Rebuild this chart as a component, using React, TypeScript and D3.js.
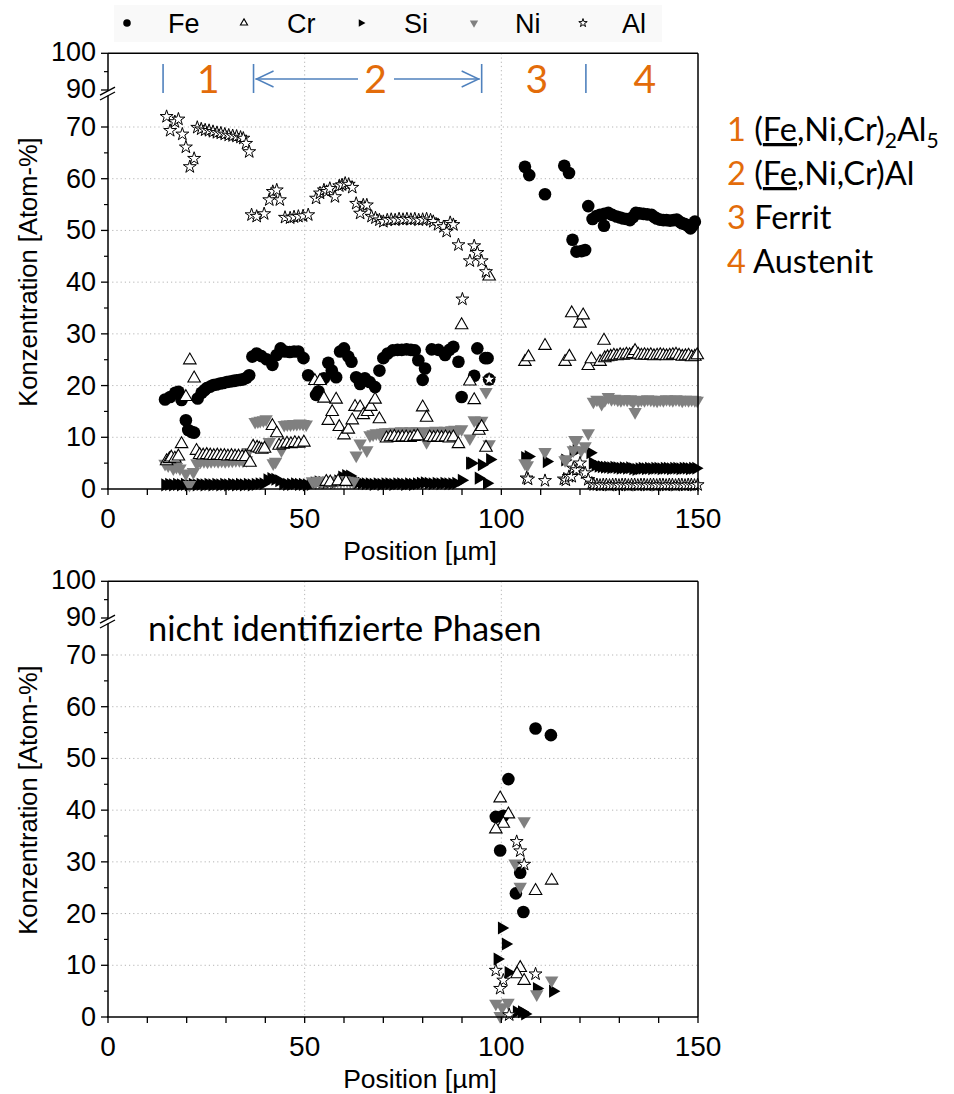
import React from "react";
import * as d3 from "d3";

// ---------- data (position in µm, concentration in Atom-%) ----------
const feTop: [number, number][] = [
  [14.5,17.3],[15.8,17.8],[17.1,18.6],[17.9,18.8],[18.7,17.2],[19.8,13.3],[20.4,11.4],[21.3,11.0],[21.9,10.9],[22.8,17.5],
  [23.8,18.6],[24.5,19.1],[25.1,19.5],[26.0,19.8],[26.8,20.1],[27.6,20.2],[28.5,20.4],[29.3,20.5],[30.2,20.7],[31.0,20.8],
  [31.9,20.9],[32.7,21.0],[33.6,21.1],[34.4,21.2],[35.2,21.5],[35.9,22.0],
  [36.7,25.6],[37.8,26.2],[39.0,25.7],[40.3,25.1],[41.8,24.0],[42.9,25.9],[43.9,27.2],[45.0,26.6],[46.2,26.5],[47.3,26.6],
  [48.4,26.6],[49.7,25.3],[50.9,22.0],[52.9,18.2],[53.5,18.9],[54.9,21.4],[56.0,24.4],[56.9,22.9],[58.0,21.6],[59.0,26.6],
  [60.0,27.2],[61.1,25.6],[61.9,24.6],[63.1,21.6],[64.1,20.3],[65.3,21.4],[66.5,20.7],[67.9,19.7],[69.0,22.9],[70.0,25.3],
  [71.1,26.2],[72.4,26.8],[73.6,26.9],[74.7,26.9],[75.9,27.0],[77.0,26.9],[78.0,26.8],[78.9,24.9],[80.6,23.3],[80.0,21.1],
  [82.3,27.0],[84.0,26.9],[85.7,25.9],[86.8,26.9],[87.8,27.5],[89.1,24.6],[89.9,17.8],[93.1,21.9],[93.9,27.2],[95.9,25.3],[96.5,25.3],
  [96.9,21.2],
  [106.0,62.3],[107.1,60.7],[111.1,57.0],[116.0,62.5],[117.2,61.1],[118.1,48.2],[119.1,45.9],[120.4,46.0],[121.3,46.2],
  [122.1,54.7],[123.2,52.2],[126.1,50.9],
  [124.2,52.8],[125.1,53.0],[126.2,53.2],[127.2,53.4],[128.2,53.0],[129.3,52.7],[130.2,52.5],[131.0,52.3],[131.9,52.2],
  [132.7,52.0],[133.5,52.6],[134.2,53.4],[135.1,53.3],[136.1,53.2],[137.1,53.1],[138.2,53.0],[138.9,52.6],[139.5,52.3],
  [140.3,52.1],[141.2,52.0],[142.0,52.0],[142.9,51.9],[143.8,52.0],[144.6,52.1],[145.3,51.7],[145.9,51.4],[146.5,51.3],
  [147.1,51.1],[147.6,50.8],[148.1,50.4],[148.7,51.0],[149.2,51.7],
];

const crTop: [number, number][] = [
  [14.9,5.4],[15.6,5.8],[16.1,6.1],[17.0,5.9],[17.9,6.3],[18.7,8.7],[19.8,17.8],[20.8,24.9],[21.9,21.4],[22.5,7.4],
  [23.3,6.6],[24.2,6.5],[25.1,6.6],[26.0,6.5],[26.9,6.4],[27.8,6.5],[28.7,6.4],[29.6,6.4],[30.5,6.3],[31.4,6.4],
  [32.3,6.3],[33.2,6.3],[34.1,6.2],[35.0,6.2],[36.1,5.1],
  [36.9,8.2],[37.9,8.0],[38.5,7.8],[39.1,7.6],[39.8,7.8],[41.8,12.2],[42.9,10.8],[43.5,8.4],[44.5,8.6],[45.5,8.8],
  [46.5,8.7],[47.5,8.9],[48.5,8.8],[49.8,9.0],[52.6,20.9],[53.9,20.9],[54.9,17.5],[56.0,13.2],[57.0,14.9],[58.0,17.3],
  [58.8,12.0],[60.0,10.4],[61.1,11.5],[62.1,13.3],[62.8,15.9],[64.1,15.8],[64.9,14.3],[66.0,14.9],[66.8,15.9],[67.9,17.3],
  [69.0,13.5],[70.8,9.8],[71.8,10.0],[72.8,10.1],[73.8,9.9],[74.8,10.0],[75.8,10.0],[76.8,9.9],[77.8,10.1],[78.7,10.2],
  [80.0,15.8],[81.0,13.8],[81.8,10.0],[82.8,9.9],[83.8,10.0],[84.8,9.9],[85.8,10.0],[86.8,9.8],[87.8,10.0],[89.1,8.7],
  [89.9,31.7],[92.0,20.8],[93.1,17.2],[94.3,11.3],[95.0,12.0],[96.1,8.0],[96.9,41.1],
  [55.5,1.4],[56.5,1.3],[58.5,1.5],[60.5,1.4],
  [106.0,24.6],[106.9,25.5],[111.1,27.7],[116.2,24.6],[117.3,25.6],[117.9,34.0],[120.0,32.0],[120.8,33.6],[122.1,23.8],
  [122.9,25.1],[125.1,24.6],[126.1,28.7],[126.3,25.3],[127.0,25.5],[127.8,25.6],[128.6,25.8],[129.4,25.7],[130.2,25.9],
  [131.0,25.8],[131.8,26.0],[132.6,25.9],[133.4,26.1],[134.0,26.7],[134.8,26.0],[135.6,25.8],[136.4,25.9],[137.2,25.8],
  [138.0,25.9],[138.8,25.7],[139.6,25.8],[140.4,25.9],[141.2,25.8],[142.0,25.7],[142.8,25.8],[143.6,25.9],[144.4,26.0],
  [145.2,25.8],[146.0,25.6],[146.8,25.7],[147.6,25.8],[148.4,25.5],[149.2,25.6],[149.8,25.9],
];

const siTop: [number, number][] = [
  [14.5,0.8],[15.5,0.9],[16.5,0.8],[17.5,0.9],[18.5,0.8],[19.5,0.9],[20.5,0.8],[21.5,0.9],[22.5,0.8],[23.5,0.9],
  [24.5,0.8],[25.5,0.9],[26.5,0.8],[27.5,0.9],[28.5,0.8],[29.5,0.9],[30.5,0.8],[31.5,0.9],[32.5,0.8],[33.5,0.9],
  [34.5,0.8],[35.5,0.9],[36.5,0.8],[37.5,0.9],[38.5,1.0],[39.5,1.0],[40.5,1.8],[41.5,2.0],[42.5,1.9],[43.5,1.6],
  [44.5,1.0],[45.5,0.9],[46.5,0.9],[47.5,1.0],[48.5,0.9],[49.5,0.9],[50.5,0.8],[51.5,0.9],[52.5,1.2],[53.5,1.4],
  [54.5,1.3],[55.5,1.2],[56.5,1.3],[57.5,1.2],[58.5,1.6],[59.5,2.3],[60.5,2.6],[61.5,2.5],[62.5,1.8],[63.5,1.2],
  [64.5,1.1],[65.5,1.0],[66.5,1.0],[67.5,0.9],[68.5,1.0],[69.5,0.9],[70.5,1.0],[71.5,1.0],[72.5,0.9],[73.5,1.0],
  [74.5,1.0],[75.5,0.9],[76.5,1.0],[77.5,0.9],[78.5,1.0],[79.5,1.1],[80.5,1.2],[81.5,1.1],[82.5,1.0],[83.5,1.1],
  [84.5,1.0],[85.5,1.1],[86.5,1.0],[87.5,1.0],[88.5,1.1],[89.9,1.7],[92.0,5.0],[92.4,5.0],[94.2,2.1],[95.0,4.7],
  [96.3,1.1],[97.1,5.7],
  [106.0,6.1],[106.9,6.3],[111.5,5.3],[116.2,5.6],[118.3,7.2],[119.1,7.5],[122.6,7.0],[123.2,5.0],
  [123.9,4.6],[124.7,4.4],[125.5,4.3],[126.3,4.2],[127.1,4.2],[127.9,4.1],[128.7,4.2],[129.5,4.1],[130.3,4.0],[131.1,4.1],
  [131.9,4.0],[132.7,4.1],[133.5,3.9],[134.3,3.8],[135.1,3.9],[135.9,4.0],[136.7,3.9],[137.5,4.0],[138.3,3.9],[139.1,4.0],
  [139.9,4.0],[140.7,3.9],[141.5,4.0],[142.3,4.0],[143.1,3.9],[143.9,4.0],[144.7,4.0],[145.5,3.9],[146.3,4.0],[147.1,4.0],
  [147.9,3.9],[148.7,4.0],[149.5,4.0],
];

const niTop: [number, number][] = [
  [14.5,4.9],[15.3,4.6],[16.6,4.0],[17.4,4.3],[18.3,4.0],[19.8,3.0],[20.7,0.8],[21.7,3.3],[22.6,5.0],[23.5,5.3],
  [24.4,5.4],[25.3,5.3],[26.2,5.4],[27.1,5.5],[28.0,5.4],[28.9,5.5],[29.8,5.4],[30.7,5.5],[31.6,5.5],[32.5,5.6],
  [33.4,5.6],[34.3,5.5],[35.2,5.6],[35.6,7.2],
  [37.4,13.0],[38.1,13.1],[38.7,13.2],[39.5,13.3],[40.2,13.5],[41.0,9.1],[42.0,5.0],[42.6,5.3],[44.1,7.5],[44.8,12.4],
  [45.6,12.5],[46.4,12.5],[47.2,12.6],[48.0,12.6],[48.8,12.7],[49.6,12.6],[50.4,12.5],[52.0,1.5],[52.8,1.3],[53.6,1.6],
  [54.4,1.4],[55.2,1.5],[56.0,1.6],[56.8,1.5],[57.6,1.4],[58.4,1.6],[59.2,1.5],[60.0,1.7],[60.8,1.6],[61.6,1.5],
  [62.4,1.4],[63.1,6.5],[64.1,8.8],[65.8,7.5],[66.6,10.4],[67.4,10.6],[68.2,10.8],[69.0,10.7],[69.8,10.9],[70.6,11.0],
  [71.4,11.0],[72.2,10.9],[73.0,11.1],[73.8,11.0],[74.6,11.2],[75.4,11.1],[76.2,11.0],[77.0,11.2],[77.8,11.1],[78.6,11.2],
  [79.4,11.0],[80.2,11.1],[81.0,9.1],[81.8,11.2],[82.6,11.1],[83.4,11.3],[84.2,11.2],[85.0,11.2],[85.8,11.3],[86.6,11.1],
  [87.4,11.4],[88.2,11.5],[89.0,11.4],[89.9,11.6],[92.0,9.8],[93.1,13.3],[94.0,13.0],[95.0,13.2],[96.1,18.8],[96.9,8.7],
  [106.0,5.0],[106.6,4.6],[111.1,7.2],[116.2,5.6],[116.6,5.8],[118.3,7.5],[118.7,9.5],[119.1,9.5],[120.3,7.5],[121.3,8.3],
  [122.1,10.8],[123.4,16.9],[124.3,17.3],[125.5,16.5],[126.3,17.2],[127.2,17.8],[128.0,17.4],[128.8,17.5],[129.6,17.3],
  [130.4,17.2],[131.2,17.4],[132.0,17.3],[132.8,17.4],[133.5,16.8],[134.0,14.9],[134.8,17.1],[135.6,17.3],[136.4,17.2],
  [137.2,17.4],[138.0,17.3],[138.8,17.2],[139.6,17.1],[140.4,17.3],[141.2,17.2],[142.0,17.4],[142.8,17.3],[143.6,17.2],
  [144.4,17.4],[145.2,17.3],[146.0,17.1],[146.8,17.3],[147.6,17.2],[148.4,17.3],[149.2,17.2],[149.8,17.1],
];

const alTop: [number, number][] = [
  [14.9,72.0],[15.8,69.3],[17.0,71.0],[17.9,71.5],[18.9,68.6],[19.8,66.1],[20.8,62.3],[21.9,63.9],[22.7,69.9],[23.7,69.6],
  [24.7,69.4],[25.7,69.3],[26.7,69.1],[27.7,68.9],[28.7,68.8],[29.7,68.6],[30.7,68.4],[31.7,68.3],[32.7,68.2],[33.7,68.0],
  [34.4,67.8],[35.1,66.8],[35.9,65.2],[36.5,53.0],[37.8,52.7],[39.7,53.2],[41.0,55.9],[41.9,57.5],[42.9,57.8],[43.7,55.9],
  [45.0,52.5],[46.3,52.4],[47.3,52.6],[48.4,52.7],[49.6,52.8],[50.9,53.0],[52.9,56.2],[53.9,57.2],[54.9,57.8],[55.6,57.5],
  [56.4,58.1],[57.7,56.5],[58.8,58.6],[59.5,58.8],[60.3,59.1],[61.2,58.9],[62.1,58.3],[63.1,55.2],[64.1,53.3],[64.9,54.9],
  [65.8,54.9],[67.0,52.7],[68.0,52.4],[69.0,52.0],[70.0,51.7],[71.0,52.0],[72.0,52.1],[73.0,52.0],[74.0,52.2],[75.0,52.1],
  [76.0,52.2],[77.0,52.1],[78.0,52.2],[79.0,52.0],[80.0,52.1],[81.0,52.2],[82.0,52.0],[82.7,51.7],[83.9,51.1],[85.3,50.7],
  [86.1,49.8],[87.0,51.5],[87.8,51.1],[89.1,47.2],[90.1,36.7],[92.0,44.1],[93.1,47.0],[93.9,45.7],[95.0,44.1],[96.1,42.0],
  [96.9,21.2],
  [106.4,2.1],[106.8,1.9],[111.1,1.6],[115.9,1.9],[116.4,1.7],[117.2,2.4],[117.9,2.4],[118.3,4.0],[119.1,3.7],[120.0,5.0],
  [121.3,3.1],[122.1,1.8],[123.0,1.1],[123.5,0.8],
  [124.3,0.8],[125.1,0.7],[125.9,0.8],[126.7,0.8],[127.5,0.7],[128.3,0.8],[129.1,0.8],[129.9,0.7],[130.7,0.8],[131.5,0.8],
  [132.3,0.7],[133.1,0.8],[133.9,0.8],[134.7,0.7],[135.5,0.8],[136.3,0.8],[137.1,0.7],[137.9,0.8],[138.7,0.8],[139.5,0.7],
  [140.3,0.8],[141.1,0.8],[141.9,0.7],[142.7,0.8],[143.5,0.8],[144.3,0.7],[145.1,0.8],[145.9,0.8],[146.7,0.7],[147.5,0.8],
  [148.3,0.8],[149.1,0.7],[149.9,0.8],
];

const feBottom: [number, number][] = [
  [108.7,55.8],[112.6,54.5],[101.8,46.0],[98.6,38.7],[100.5,38.9],[99.7,32.2],[104.8,27.9],[103.7,23.9],[105.6,20.3],
];
const crBottom: [number, number][] = [
  [99.7,42.3],[101.8,39.2],[100.5,37.4],[98.6,36.3],[112.8,26.4],[108.7,24.4],[104.8,9.5],[104.0,8.3],[105.8,7.0],
];
const siBottom: [number, number][] = [
  [100.1,17.2],[101.1,14.1],[99.0,11.2],[101.8,8.6],[109.0,5.5],[113.1,5.0],[103.9,1.0],[105.2,1.0],[106.0,0.6],
];
const niBottom: [number, number][] = [
  [105.8,37.9],[103.5,29.7],[104.8,25.2],[112.8,7.1],[109.0,4.4],[98.6,2.6],[100.2,1.9],[101.7,2.8],[99.7,0.2],
];
const alBottom: [number, number][] = [
  [103.9,33.9],[104.8,32.1],[105.8,29.5],[98.6,9.0],[100.5,7.1],[99.7,5.5],[108.7,8.3],[102.0,0.4],
];

const xTicks = [0, 10, 20, 30, 40, 50, 60, 70, 80, 90, 100, 110, 120, 130, 140, 150];
const xLabels = [0, 50, 100, 150];
const yLowTicks = [0, 10, 20, 30, 40, 50, 60, 70];
const yLowMinor = [5, 15, 25, 35, 45, 55, 65];
const yHighTicks = [90, 100];
const yHighMinor = [95];
const phaseBounds = [14, 37, 95, 121.5];
const phaseLabels = [
  { n: "1", x: 25.5 },
  { n: "2", x: 68 },
  { n: "3", x: 109 },
  { n: "4", x: 136.5 },
];

const ORANGE = "#E36C0A";
const BLUE = "#4F81BD";
const GRAY = "#808080";
const AXF = "'Liberation Sans', Arial, sans-serif";
const CALF = "Lato, 'Open Sans', sans-serif";

const x = d3.scaleLinear().domain([0, 150]).range([108, 698]);
const yLow = d3.scaleLinear().domain([0, 70]).range([489, 127]);
const yHigh = d3.scaleLinear().domain([90, 100]).range([90, 53.3]);

const sym = {
  Fe: d3.symbol().type(d3.symbolCircle).size(125)(),
  Cr: d3.symbol().type(d3.symbolTriangle).size(68)(),
  Si: d3.symbol().type(d3.symbolTriangle).size(74)(),
  Ni: d3.symbol().type(d3.symbolTriangle).size(78)(),
  Al: d3.symbol().type(d3.symbolStar).size(52)(),
};
const symSmall = {
  Fe: d3.symbol().type(d3.symbolCircle).size(45)(),
  Cr: d3.symbol().type(d3.symbolTriangle).size(22)(),
  Si: d3.symbol().type(d3.symbolTriangle).size(26)(),
  Ni: d3.symbol().type(d3.symbolTriangle).size(30)(),
  Al: d3.symbol().type(d3.symbolStar).size(22)(),
};
const style: Record<string, { fill: string; stroke: string; sw: number; rot: number }> = {
  Fe: { fill: "#000", stroke: "none", sw: 0, rot: 0 },
  Cr: { fill: "#fff", stroke: "#000", sw: 1.1, rot: 0 },
  Si: { fill: "#000", stroke: "none", sw: 0, rot: 90 },
  Ni: { fill: GRAY, stroke: "none", sw: 0, rot: 180 },
  Al: { fill: "#fff", stroke: "#000", sw: 1, rot: 0 },
};

function Markers({ el, pts, dy }: { el: string; pts: [number, number][]; dy: number }) {
  const s = style[el];
  return (
    <g>
      {pts.map((p, i) => (
        <path
          key={i}
          d={(sym as any)[el]}
          transform={`translate(${x(p[0])},${yLow(p[1]) + dy}) rotate(${s.rot})`}
          fill={s.fill}
          stroke={s.stroke}
          strokeWidth={s.sw}
        />
      ))}
    </g>
  );
}

function Panel({ dy, series, children }: { dy: number; series: Record<string, [number, number][]>; children?: any }) {
  const yTop = yHigh(100) + dy;
  const yBot = yLow(0) + dy;
  const breakLow = 95.5 + dy;
  const breakHigh = 90.7 + dy;
  return (
    <g>
      {yLowTicks.filter((t) => t > 0).map((t) => (
        <line key={"gh" + t} x1={x(0)} x2={x(150)} y1={yLow(t) + dy} y2={yLow(t) + dy}
          stroke="#b5b5b5" strokeWidth={1} strokeDasharray="1.2,3" />
      ))}
      {[50, 100].map((t) => (
        <line key={"gv" + t} x1={x(t)} x2={x(t)} y1={yTop} y2={yBot}
          stroke="#b5b5b5" strokeWidth={1} strokeDasharray="1.2,3" />
      ))}
      {children}
      {["Fe", "Si", "Ni", "Cr", "Al"].map((el) => (
        <Markers key={el} el={el} pts={series[el]} dy={dy} />
      ))}
      <line x1={x(0)} x2={x(150)} y1={yTop} y2={yTop} stroke="#000" strokeWidth={1.5} />
      <line x1={x(150)} x2={x(150)} y1={yTop} y2={yBot} stroke="#000" strokeWidth={1.5} />
      <line x1={x(0) - 1} x2={x(150)} y1={yBot} y2={yBot} stroke="#000" strokeWidth={1.5} />
      <line x1={x(0)} x2={x(0)} y1={yBot} y2={breakLow} stroke="#000" strokeWidth={1.5} />
      <line x1={x(0)} x2={x(0)} y1={yTop} y2={breakHigh} stroke="#000" strokeWidth={1.5} />
      <line x1={x(0) - 8} y1={breakHigh + 4.5} x2={x(0) + 7} y2={breakHigh - 3.5} stroke="#000" strokeWidth={1.4} />
      <line x1={x(0) - 8} y1={breakLow + 4.5} x2={x(0) + 7} y2={breakLow - 3.5} stroke="#000" strokeWidth={1.4} />
      {yLowTicks.map((t) => (
        <g key={"yl" + t}>
          <line x1={x(0) - 7} x2={x(0)} y1={yLow(t) + dy} y2={yLow(t) + dy} stroke="#000" strokeWidth={1.3} />
          <text x={x(0) - 12} y={yLow(t) + dy} textAnchor="end" dominantBaseline="central"
            fontFamily={AXF} fontSize={27}>{t}</text>
        </g>
      ))}
      {yLowMinor.map((t) => (
        <line key={"ym" + t} x1={x(0) - 4} x2={x(0)} y1={yLow(t) + dy} y2={yLow(t) + dy} stroke="#000" strokeWidth={1.2} />
      ))}
      {yHighTicks.map((t) => (
        <g key={"yh" + t}>
          <line x1={x(0) - 7} x2={x(0)} y1={yHigh(t) + dy} y2={yHigh(t) + dy} stroke="#000" strokeWidth={1.3} />
          <text x={x(0) - 12} y={yHigh(t) + dy - 1} textAnchor="end" dominantBaseline="central"
            fontFamily={AXF} fontSize={27}>{t}</text>
        </g>
      ))}
      {yHighMinor.map((t) => (
        <line key={"yhm" + t} x1={x(0) - 4} x2={x(0)} y1={yHigh(t) + dy} y2={yHigh(t) + dy} stroke="#000" strokeWidth={1.2} />
      ))}
      {xTicks.map((t) => (
        <line key={"xt" + t} x1={x(t)} x2={x(t)} y1={yBot} y2={yBot + 6} stroke="#000" strokeWidth={1.3} />
      ))}
      {xLabels.map((t) => (
        <text key={"xl" + t} x={x(t)} y={yBot + 29} textAnchor="middle" dominantBaseline="central"
          fontFamily={AXF} fontSize={28}>{t}</text>
      ))}
      <text x={420} y={yBot + 62} textAnchor="middle" dominantBaseline="central" fontFamily={AXF} fontSize={26.5}>
        Position [µm]
      </text>
      <text transform={`translate(28,${272 + dy}) rotate(-90)`} textAnchor="middle" dominantBaseline="central"
        fontFamily={AXF} fontSize={25.5}>
        Konzentration [Atom-%]
      </text>
    </g>
  );
}

function Legend() {
  const items = [
    { el: "Fe", mx: 127, tx: 168 },
    { el: "Cr", mx: 244, tx: 287 },
    { el: "Si", mx: 361, tx: 404 },
    { el: "Ni", mx: 474, tx: 515 },
    { el: "Al", mx: 583, tx: 622 },
  ];
  return (
    <g>
      <rect x={114} y={5} width={548} height={37} fill="#f9f9f9" />
      {items.map((it) => {
        const s = style[it.el];
        return (
          <g key={it.el}>
            <path d={(symSmall as any)[it.el]} transform={`translate(${it.mx},${23}) rotate(${s.rot})`}
              fill={s.fill} stroke={s.stroke} strokeWidth={s.sw} />
            <text x={it.tx} y={33} fontFamily={AXF} fontSize={27}>{it.el}</text>
          </g>
        );
      })}
    </g>
  );
}

function PhaseAnnotation() {
  const yA = 64, yB = 93, yM = 79;
  const [b0, b1, b2, b3] = phaseBounds.map((v) => x(v));
  return (
    <g>
      {[b0, b1, b2, b3].map((bx, i) => (
        <line key={i} x1={bx} x2={bx} y1={yA} y2={yB} stroke={BLUE} strokeWidth={1.6} />
      ))}
      <line x1={b1 + 2} x2={358} y1={yM} y2={yM} stroke={BLUE} strokeWidth={1.4} />
      <line x1={394} x2={b2 - 2} y1={yM} y2={yM} stroke={BLUE} strokeWidth={1.4} />
      <polyline points={`${b1 + 20},${yM - 8} ${b1 + 3},${yM} ${b1 + 20},${yM + 8}`} fill="none" stroke={BLUE} strokeWidth={1.4} />
      <polyline points={`${b2 - 20},${yM - 8} ${b2 - 3},${yM} ${b2 - 20},${yM + 8}`} fill="none" stroke={BLUE} strokeWidth={1.4} />
      {phaseLabels.map((p) => (
        <text key={p.n} x={x(p.x)} y={93} textAnchor="middle" fontFamily={CALF} fontSize={39} fill={ORANGE}>
          {p.n}
        </text>
      ))}
    </g>
  );
}

function PhaseKey() {
  const fs = 32.5;
  const sub = { fontSize: 21 };
  return (
    <g fontFamily={CALF} fontSize={fs} fill="#000">
      <text x={727} y={141}>
        <tspan fill={ORANGE}>1</tspan> (<tspan textDecoration="underline">Fe</tspan>,Ni,Cr)
        <tspan dy={7} {...sub}>2</tspan><tspan dy={-7}>Al</tspan><tspan dy={7} {...sub}>5</tspan>
      </text>
      <text x={727} y={185}>
        <tspan fill={ORANGE}>2</tspan> (<tspan textDecoration="underline">Fe</tspan>,Ni,Cr)Al
      </text>
      <text x={727} y={229}>
        <tspan fill={ORANGE}>3</tspan> Ferrit
      </text>
      <text x={727} y={273}>
        <tspan fill={ORANGE}>4</tspan> Austenit
      </text>
    </g>
  );
}

export default function App() {
  const topSeries = { Fe: feTop, Cr: crTop, Si: siTop, Ni: niTop, Al: alTop };
  const botSeries = { Fe: feBottom, Cr: crBottom, Si: siBottom, Ni: niBottom, Al: alBottom };
  return (
    <svg width={954} height={1094} style={{ position: "absolute", left: 0, top: 0, background: "#fff" }}>
      <rect x={0} y={0} width={954} height={1094} fill="#fff" />
      <Legend />
      <Panel dy={0} series={topSeries}>
        <PhaseAnnotation />
      </Panel>
      <PhaseKey />
      <Panel dy={528} series={botSeries} />
      <text x={148} y={641} fontFamily={CALF} fontSize={34.5}>nicht identifizierte Phasen</text>
    </svg>
  );
}
